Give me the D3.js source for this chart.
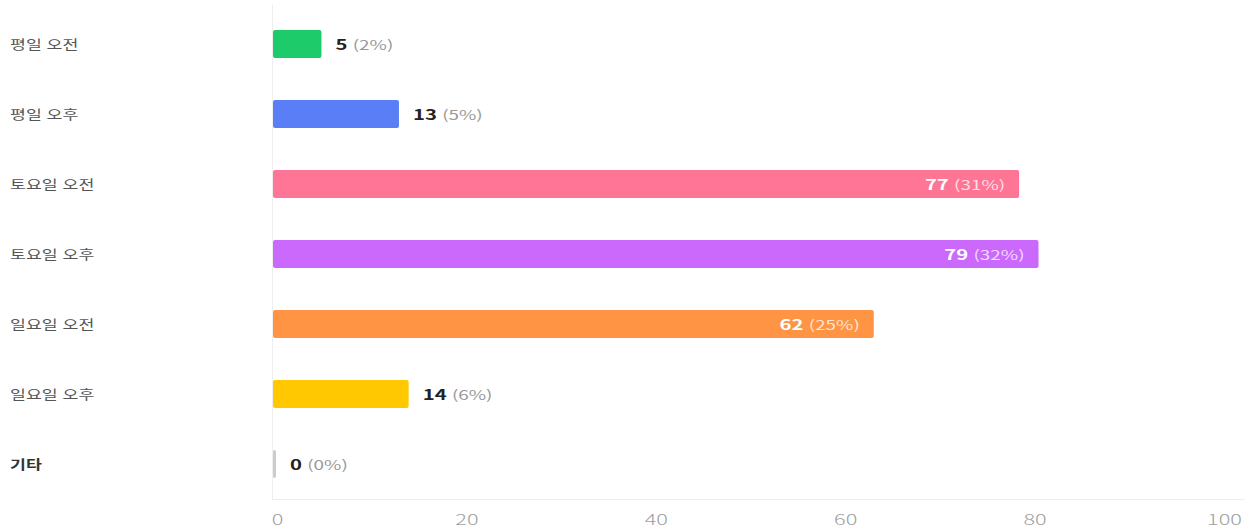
<!DOCTYPE html>
<html lang="ko">
<head>
<meta charset="UTF-8">
<script src="https://d3js.org/d3.v7.min.js"></script>
<style>
  body { margin: 0; background: #fff; }
  svg { display: block; font-family: "Noto Sans CJK KR", "Noto Sans", sans-serif; }
</style>
</head>
<body>
<div id="chart"></div>
<script>
// data
var categories = ["평일 오전", "평일 오후", "토요일 오전", "토요일 오후", "일요일 오전", "일요일 오후", "기타"];
var counts = [5, 13, 77, 79, 62, 14, 0];
var percents = [2, 5, 31, 32, 25, 6, 0];
var colors = ["#1dcb6b", "#5a7ef5", "#fe7596", "#cb69fc", "#fe9444", "#ffc800", "#cccccc"];
var tickValues = [0, 20, 40, 60, 80, 100];

var width = 1253, height = 531;

var svg = d3.select("#chart")
  .append("svg")
    .attr("width", width)
    .attr("height", height);

var data = categories.map(function(c, i) {
  return {cat: c, n: counts[i], pct: percents[i], color: colors[i]};
});

// scales
var x = d3.scaleLinear().domain([0, 100]).range([273, 1242]);
var y = d3.scaleBand()
  .domain(categories)
  .range([9, 499])
  .paddingInner(0.6)
  .paddingOuter(0.3);

// the original text is drawn wide, so stretch it sideways
var catStretch = 1.33, valStretch = 1.45, tickStretch = 1.55;

// frame lines
svg.append("line")
  .attr("x1", 272.5).attr("x2", 272.5)
  .attr("y1", 5).attr("y2", 499)
  .attr("stroke", "#eeeeee");
svg.append("line")
  .attr("x1", 272).attr("x2", 1245)
  .attr("y1", 499.5).attr("y2", 499.5)
  .attr("stroke", "#eeeeee");

// tick labels are spread edge to edge, like the original
var labelX = d3.scaleLinear().domain([0, 100]).range([277, 1224]);
var xAxis = svg.append("g")
  .attr("transform", "translate(0,512)")
  .call(d3.axisBottom(labelX).tickValues(tickValues).tickSize(0));
xAxis.select(".domain").remove();
xAxis.selectAll("text")
  .attr("transform", "scale(" + tickStretch + ",1)")
  .style("font-family", "'Noto Sans CJK KR', 'Noto Sans', sans-serif")
  .style("font-size", "14px")
  .style("font-weight", 300)
  .attr("fill", "#a0a0a0");

// category labels
svg.selectAll(".cat")
  .data(data)
  .enter()
  .append("text")
    .attr("class", "cat")
    .attr("transform", function(d) {
      return "translate(10," + (y(d.cat) + y.bandwidth() / 2) + ") scale(" + catStretch + ",1)";
    })
    .attr("dy", "0.35em")
    .style("font-size", "13px")
    .style("font-weight", function(d) { return d.cat === "기타" ? 700 : 400; })
    .attr("fill", function(d) { return d.cat === "기타" ? "#333" : "#555"; })
    .text(function(d) { return d.cat; });

// bars
svg.selectAll(".bar")
  .data(data)
  .enter()
  .append("rect")
    .attr("class", "bar")
    .attr("x", x(0))
    .attr("y", function(d) { return y(d.cat); })
    .attr("width", function(d) { return Math.max(3, x(d.n) - x(0)); })
    .attr("height", y.bandwidth())
    .attr("rx", 2)
    .attr("fill", function(d) { return d.color; });

// value labels
var inside = function(d) { return d.n > 30; };
var vals = svg.selectAll(".val")
  .data(data)
  .enter()
  .append("text")
    .attr("class", "val")
    .attr("transform", function(d) {
      var end = x(0) + Math.max(3, x(d.n) - x(0));
      var px = inside(d) ? end - 14 : end + 14;
      return "translate(" + px + "," + (y(d.cat) + y.bandwidth() / 2) + ") scale(" + valStretch + ",1)";
    })
    .attr("dy", "0.35em")
    .attr("text-anchor", function(d) { return inside(d) ? "end" : "start"; });

vals.append("tspan")
  .style("font-size", "14px")
  .style("font-weight", 700)
  .attr("fill", function(d) { return inside(d) ? "#fff" : "#222"; })
  .text(function(d) { return d.n; });
vals.append("tspan")
  .style("font-size", "13px")
  .style("font-weight", 400)
  .attr("fill", function(d) { return inside(d) ? "rgba(255,255,255,0.75)" : "#999"; })
  .text(function(d) { return " (" + d.pct + "%)"; });
</script>
</body>
</html>
